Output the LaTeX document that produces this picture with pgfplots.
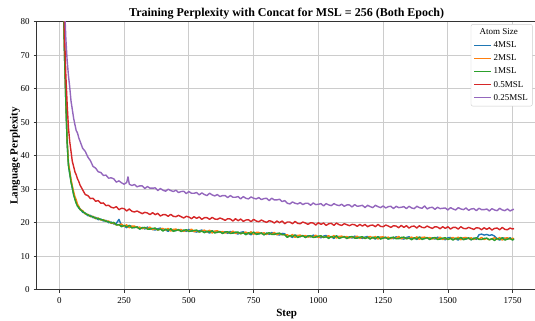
\documentclass[border=0pt]{standalone}
\usepackage{pgfplots}
\usepackage{pgfplotstable}
\pgfplotsset{compat=1.18}
\usepackage{fontspec}
\setmainfont{Liberation Serif}
\definecolor{tabblue}{HTML}{1F77B4}
\definecolor{taborange}{HTML}{FF7F0E}
\definecolor{tabgreen}{HTML}{2CA02C}
\definecolor{tabred}{HTML}{D62728}
\definecolor{tabpurple}{HTML}{9467BD}
\definecolor{gridgray}{HTML}{CCCCCC}
\definecolor{spine}{HTML}{333333}
\pgfplotstableread{
s b o g r p
10 160 162 158 170 180
15 88 89 88 96 108
20 70 71 70 76 85
25 56 57 56 64 75
30 44 45 44 55.5 68.5
35 37.5 38 37 48.5 64
40 34.5 35.5 34.8 44.2 60.5
45 32.5 33.0 32.0 41.3 56.3
50 30.2 31.0 30.5 38.3 53.8
55 28.6 29.3 28.3 36.8 51.2
60 27.2 27.8 27.0 35.2 49.3
65 26.0 26.9 25.8 34.3 47.5
70 25.2 25.5 24.9 33.1 46.8
75 24.3 24.9 24.6 32.3 45.3
80 24.2 24.0 23.9 31.2 44.3
90 23.1 23.6 23.4 29.8 42.2
100 22.9 22.6 22.7 28.4 41.3
110 22.1 22.5 22.4 28.1 39.6
120 22.2 21.8 21.9 27.2 38.5
130 21.5 21.9 21.8 27.3 36.8
140 21.6 21.2 21.3 26.4 36.3
150 20.9 21.4 21.3 26.6 35.2
160 21.1 20.8 20.9 25.8 35.0
170 20.5 20.9 20.8 25.9 34.1
180 20.7 20.4 20.4 25.1 34.2
190 20.0 20.5 20.3 25.2 33.3
200 20.2 19.8 19.9 24.6 33.4
210 19.6 20.0 20.1 24.4 33.1
220 19.8 19.3 19.3 24.8 32.1
230 21.0 19.4 19.4 23.9 32.5
240 19.1 19.6 18.8 24.3 31.9
250 19.0 18.9 19.2 24.2 31.5
260 18.5 19.4 18.8 23.5 32.0
265 18.9 18.8 18.9 23.8 33.7
270 19.2 18.5 19.2 24.1 31.5
280 18.8 19.0 18.4 23.4 31.1
290 18.5 19.0 18.6 23.2 31.4
300 18.8 18.5 18.7 23.5 30.7
310 18.1 18.7 18.1 23.1 31.0
320 18.6 18.2 18.5 22.7 31.0
330 18.1 18.5 18.6 23.1 30.2
340 18.7 18.2 18.1 22.9 30.8
350 18.2 18.7 18.1 22.4 30.3
360 18.0 17.9 18.3 23.0 30.3
370 17.8 18.3 18.4 22.4 30.4
380 18.2 17.8 17.8 22.8 29.6
390 18.4 18.1 18.1 22.0 30.2
400 17.7 18.3 17.5 22.4 29.7
410 17.9 17.8 18.1 22.4 29.4
420 17.4 18.3 17.7 21.9 30.0
430 18.1 17.5 18.2 22.5 29.6
440 17.8 18.0 17.4 21.9 29.3
450 17.6 18.1 17.7 21.8 29.7
460 18.0 17.7 17.9 22.2 29.0
470 17.4 18.0 17.4 21.8 29.3
480 17.8 17.4 17.7 21.4 29.4
490 17.4 17.8 17.9 21.9 28.7
500 18.0 17.5 17.4 21.7 29.3
510 17.6 18.1 17.5 21.2 28.8
520 17.4 17.3 17.7 21.8 28.8
530 17.2 17.7 17.8 21.3 29.0
540 17.6 17.2 17.2 21.7 28.3
550 17.8 17.5 17.5 21.0 28.9
560 17.2 17.8 17.0 21.5 28.4
570 17.3 17.2 17.5 21.5 28.1
580 16.9 17.8 17.2 21.0 28.8
590 17.5 16.9 17.6 21.6 28.3
600 17.3 17.5 16.9 21.1 28.0
610 17.1 17.6 17.2 21.0 28.4
620 17.4 17.1 17.3 21.4 27.8
630 16.8 17.4 16.8 21.1 28.1
640 17.3 16.9 17.2 20.7 28.1
650 16.8 17.2 17.3 21.2 27.5
660 17.4 16.9 16.8 21.1 28.1
670 17.0 17.5 16.9 20.5 27.6
680 16.9 16.8 17.2 21.2 27.6
690 16.6 17.1 17.2 20.6 27.8
700 17.1 16.7 16.7 21.1 27.1
710 17.3 17.0 17.0 20.4 27.8
720 16.6 17.2 16.4 20.8 27.3
730 16.8 16.7 17.0 20.9 27.1
740 16.4 17.3 16.7 20.3 27.7
750 17.1 16.5 17.2 21.0 27.3
760 16.9 17.1 16.5 20.5 27.1
770 16.6 17.1 16.7 20.3 27.5
780 17.0 16.7 16.9 20.8 26.9
790 16.4 17.0 16.4 20.4 27.2
800 16.9 16.5 16.8 20.1 27.3
810 16.5 16.9 17.0 20.6 26.6
820 17.1 16.6 16.5 20.4 27.3
830 16.7 17.1 16.5 19.9 26.8
840 16.5 16.4 16.8 20.5 26.8
850 16.3 16.8 16.9 20.0 27.0
860 16.8 16.4 16.4 20.5 26.3
870 16.7 16.4 16.4 19.7 26.6
880 15.8 16.4 15.6 20.2 25.8
890 16.0 15.9 16.2 20.2 25.6
900 15.6 16.5 15.9 19.7 26.2
910 16.3 15.6 16.3 20.4 25.8
920 16.1 16.2 15.6 19.8 25.6
930 15.8 16.3 15.9 19.7 26.0
940 16.2 15.9 16.1 20.2 25.4
950 15.6 16.2 15.6 19.9 25.8
960 16.1 15.7 16.0 19.5 25.8
970 15.7 16.0 16.1 20.0 25.2
980 16.3 15.7 15.6 19.9 25.9
990 15.9 16.3 15.7 19.3 25.4
1000 15.7 15.6 16.0 20.0 25.5
1010 15.5 16.0 16.1 19.5 25.7
1020 16.0 15.6 15.6 19.9 25.0
1030 16.2 15.8 15.8 19.2 25.7
1040 15.6 16.1 15.3 19.7 25.3
1050 15.8 15.6 15.9 19.8 25.1
1060 15.3 16.2 15.6 19.2 25.7
1070 16.0 15.4 16.1 19.9 25.3
1080 15.8 15.9 15.3 19.4 25.1
1090 15.6 16.0 15.6 19.2 25.5
1100 15.9 15.6 15.8 19.7 24.9
1110 15.3 15.9 15.3 19.4 25.3
1120 15.8 15.4 15.7 19.1 25.3
1130 15.4 15.8 15.9 19.5 24.7
1140 16.0 15.5 15.4 19.4 25.4
1150 15.6 16.0 15.4 18.9 24.9
1160 15.5 15.3 15.7 19.5 25.0
1170 15.3 15.7 15.8 19.0 25.2
1180 15.7 15.3 15.3 19.5 24.5
1190 15.9 15.6 15.6 18.8 25.2
1200 15.3 15.9 15.1 19.2 24.8
1210 15.5 15.4 15.7 19.3 24.5
1220 15.1 15.9 15.3 18.8 25.2
1230 15.8 15.1 15.8 19.5 24.8
1240 15.6 15.7 15.1 18.9 24.5
1250 15.4 15.8 15.4 18.8 25.0
1260 15.7 15.4 15.6 19.3 24.4
1270 15.1 15.7 15.1 19.0 24.8
1280 15.6 15.2 15.5 18.6 24.9
1290 15.2 15.6 15.7 19.1 24.2
1300 15.8 15.3 15.2 19.0 24.9
1310 15.4 15.9 15.2 18.5 24.5
1320 15.3 15.2 15.6 19.2 24.6
1330 15.1 15.6 15.7 18.6 24.8
1340 15.6 15.2 15.2 19.1 24.2
1350 15.8 15.4 15.4 18.4 24.9
1360 15.2 15.7 14.9 18.9 24.4
1370 15.4 15.2 15.5 19.0 24.2
1380 15.0 15.8 15.2 18.4 24.9
1390 15.7 15.0 15.7 19.1 24.5
1400 15.5 15.6 15.0 18.6 24.3
1410 15.2 15.7 15.3 18.5 25.0
1420 15.6 15.3 15.5 19.0 24.1
1430 15.0 15.6 15.0 18.6 24.5
1440 15.5 15.1 15.4 18.3 24.6
1450 15.1 15.5 15.6 18.8 24.0
1460 15.7 15.1 15.0 18.7 24.6
1470 15.3 15.7 15.1 18.2 24.2
1480 15.2 15.0 15.4 18.8 24.3
1490 14.9 15.4 15.5 18.3 24.4
1500 15.5 15.0 15.0 18.8 23.8
1510 15.6 15.3 15.3 18.1 24.5
1520 15.0 15.6 14.8 18.6 24.1
1530 15.2 15.1 15.4 18.6 23.8
1540 14.8 15.7 15.1 18.1 24.5
1550 15.5 14.9 15.6 18.8 24.1
1560 15.3 15.5 14.9 18.3 23.9
1570 15.1 15.6 15.2 18.2 24.4
1580 15.5 15.2 15.4 18.6 23.7
1590 14.9 15.5 14.9 18.3 24.1
1600 15.4 15.0 15.3 18.0 24.2
1610 15.0 15.4 15.5 18.5 23.6
1620 16.4 15.1 15.0 18.4 24.3
1630 16.6 15.6 15.0 17.9 23.9
1640 16.3 15.0 15.3 18.5 23.9
1650 16.5 15.3 15.4 18.0 24.1
1660 16.2 14.9 14.9 18.5 23.5
1670 16.4 15.2 15.2 17.8 24.2
1680 16.0 15.5 14.7 18.3 23.8
1690 15.2 15.0 15.3 18.4 23.6
1700 14.8 15.6 15.0 17.9 24.3
1710 15.5 14.8 15.5 18.6 23.8
1720 15.3 15.4 14.8 18.0 23.6
1730 15.1 15.5 15.1 17.9 24.1
1740 15.5 15.1 15.3 18.4 23.5
1750 14.9 15.4 14.8 18.1 23.9
1755 15.3 15.0 15.2 18.3 24.0
}\datatable
\begin{document}
\begin{tikzpicture}
\begin{axis}[
  name=ax,
  scale only axis,
  width=499.9pt, height=268pt,
  xmin=-87.5, xmax=1842.5,
  ymin=0, ymax=80,
  xtick={0,250,...,1750},
  ytick={0,10,...,80},
  tick pos=left,
  tick align=outside,
  major tick length=3pt,
  every tick/.style={spine, line width=0.6pt},
  axis line style={spine, line width=0.8pt},
  grid=major,
  major grid style={gridgray, line width=0.8pt},
  /pgf/number format/assume math mode=true,
  /pgf/number format/set thousands separator={},
  tick label style={font=\fontsize{9}{10}\selectfont, text=black},
  xticklabel style={yshift=-1pt},
  yticklabel style={xshift=-0.5pt},
  every axis title shift=0pt,
  title={\bfseries Training Perplexity with Concat for MSL = 256 (Both Epoch)},
  title style={font=\fontsize{12}{14}\selectfont, at={(axis description cs:0.5,1.032)}, anchor=center},
  xlabel={\bfseries Step},
  ylabel={\bfseries Language Perplexity},
  every axis x label/.style={at={(axis description cs:0.5,-0.089)}, anchor=center, font=\fontsize{11}{13}\selectfont},
  every axis y label/.style={at={(axis description cs:-0.0434,0.5)}, anchor=center, rotate=90, font=\fontsize{11}{13}\selectfont},
  legend cell align=left,
  legend style={at={(0.992,0.991)}, anchor=north east, draw=gridgray, rounded corners=2pt,
    fill=white, font=\fontsize{9}{10.5}\selectfont,
    row sep=1.6pt, inner sep=2.5pt},
  legend image code/.code={\draw[#1, line width=1.2pt] (0pt,0pt) -- (17pt,0pt);},
  every axis plot/.append style={line width=1.4pt, line join=round},
]
\addlegendimage{empty legend}
\addlegendentry{\hspace*{-14pt}Atom Size}
\addplot[tabblue, no markers] table[x=s, y=b] {\datatable};
\addlegendentry{4MSL}
\addplot[taborange, no markers] table[x=s, y=o] {\datatable};
\addlegendentry{2MSL}
\addplot[tabgreen, no markers] table[x=s, y=g] {\datatable};
\addlegendentry{1MSL}
\addplot[tabred, no markers] table[x=s, y=r] {\datatable};
\addlegendentry{0.5MSL}
\addplot[tabpurple, no markers] table[x=s, y=p] {\datatable};
\addlegendentry{0.25MSL}
\end{axis}
\pgfresetboundingbox
\path[use as bounding box] (ax.south west) ++(-36.7pt,-31.3pt) rectangle ++(535pt,321pt);
\end{tikzpicture}
\end{document}
